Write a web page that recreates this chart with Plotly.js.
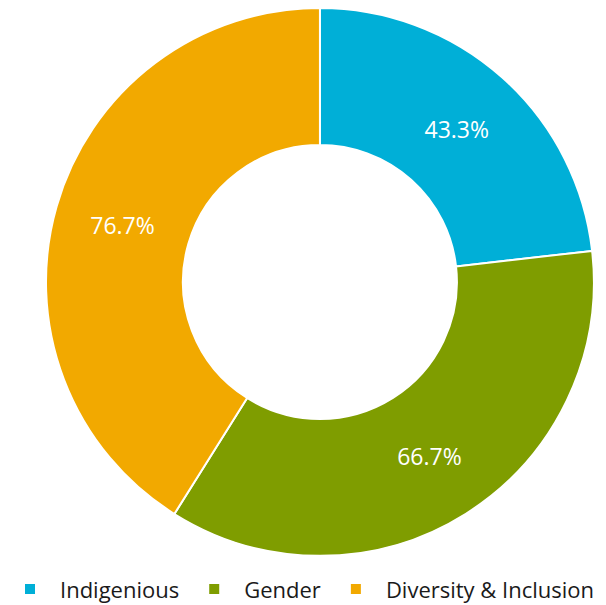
<!DOCTYPE html>
<html><head><meta charset="utf-8">
<script src="https://cdn.plot.ly/plotly-3.0.1.min.js"></script>
<style>html,body{margin:0;padding:0;background:#fff}</style>
</head><body><div id="chart" style="width:606px;height:605px"></div>
<script>
const categories = ["Indigenious", "Gender", "Diversity & Inclusion"];
const values = [43.3, 66.7, 76.7];
const colors = ["#00AFD7", "#7F9D00", "#F2A900"];

Plotly.newPlot("chart", [{
  type: "pie",
  labels: categories,
  values: values,
  hole: 0.5,
  sort: false,
  direction: "clockwise",
  rotation: 0,
  marker: {colors: colors, line: {color: "#ffffff", width: 2}},
  texttemplate: "%{value:.1f}%",
  textposition: "inside",
  insidetextorientation: "horizontal",
  textfont: {family: "Open Sans, sans-serif", size: 23, color: "#ffffff"},
  domain: {x: [0.0759, 0.980], y: [0.081, 0.987]},
  hoverinfo: "label+value"
}], {
  width: 606, height: 605,
  margin: {l: 0, r: 0, t: 0, b: 0, autoexpand: false},
  paper_bgcolor: "#ffffff",
  showlegend: true,
  legend: {orientation: "h", x: 0, y: 0.026, xanchor: "left", yanchor: "middle",
    bgcolor: "rgba(0,0,0,0)",
    font: {family: "Open Sans, sans-serif", size: 22, color: "#1a1a1a"}, itemwidth: 50}
}, {displayModeBar: false});
</script></body></html>
